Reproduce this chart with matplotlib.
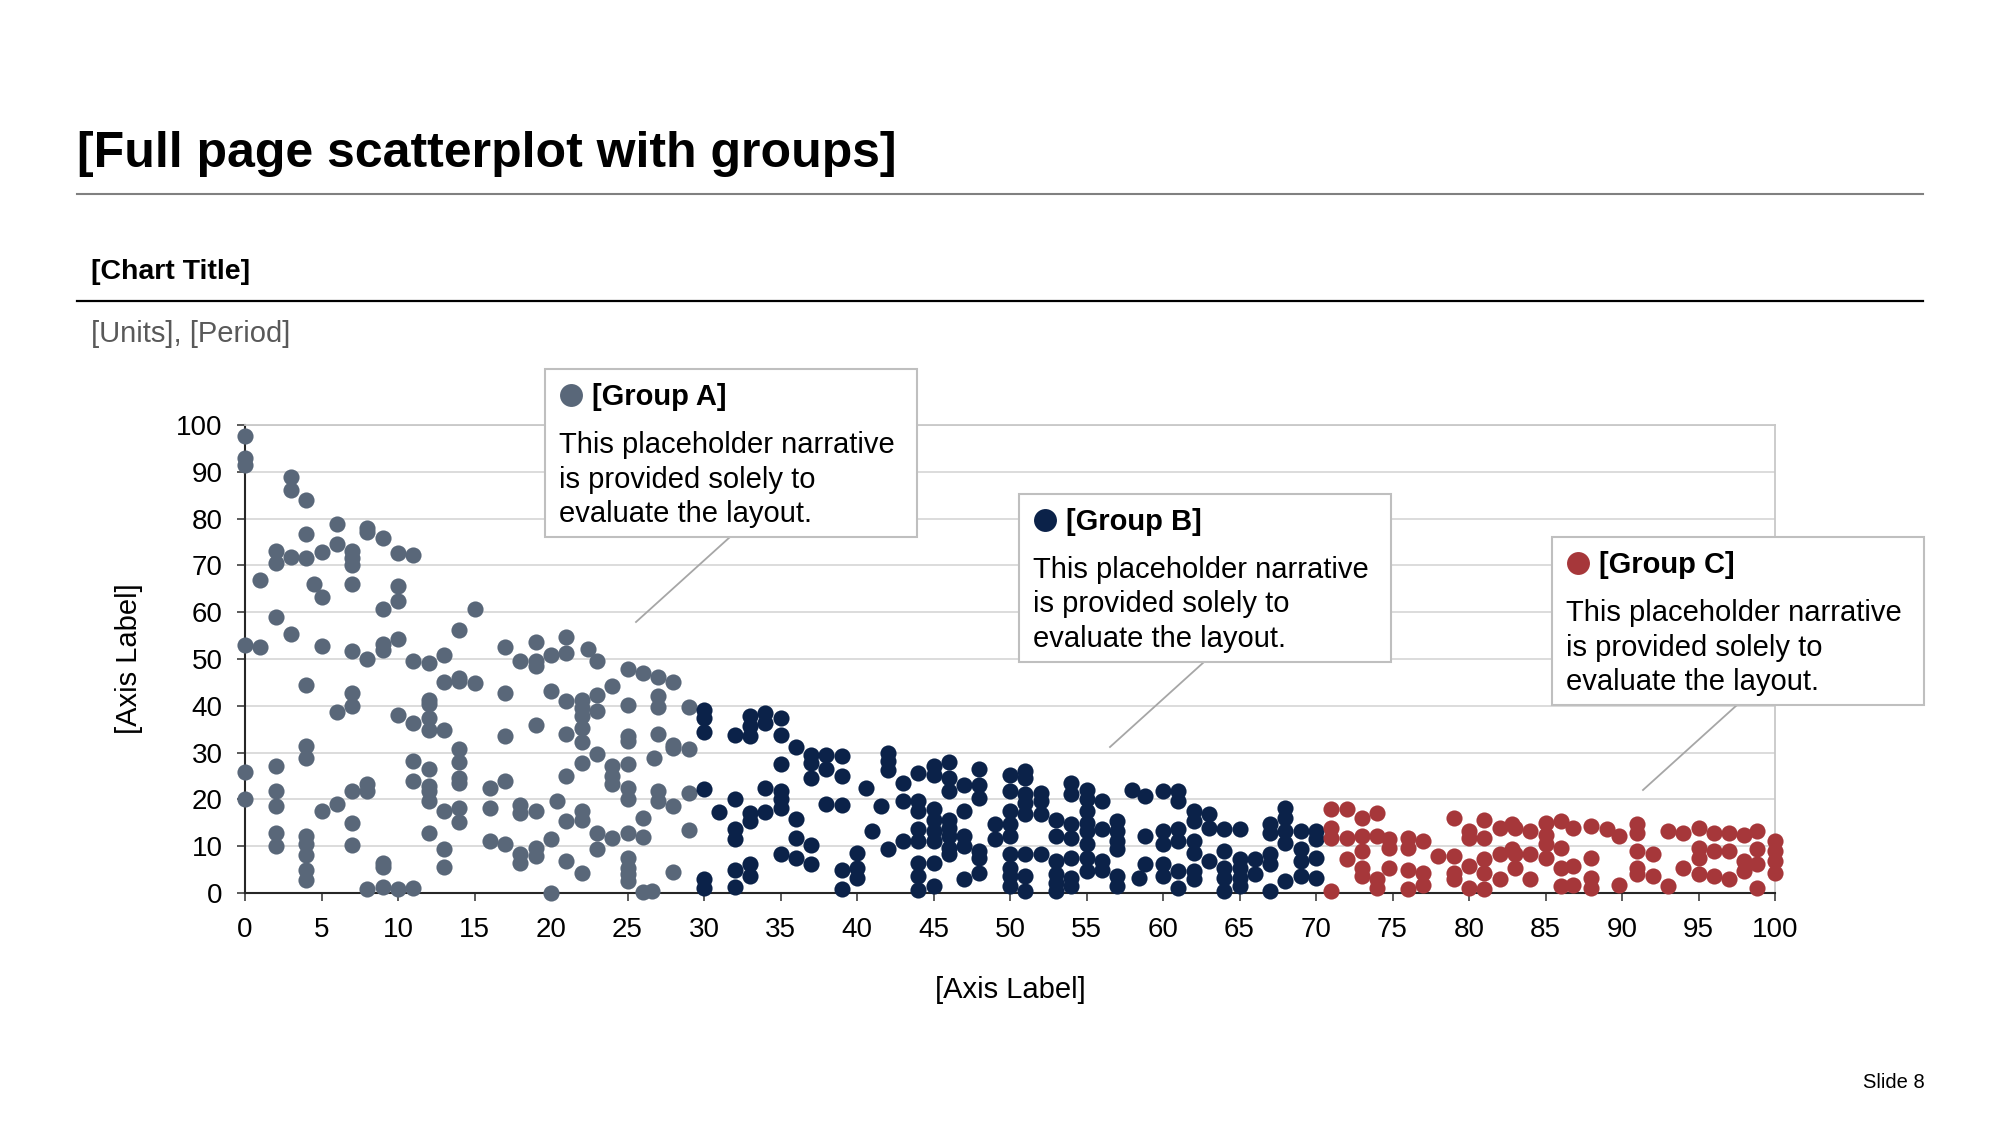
import matplotlib.pyplot as plt
from matplotlib.lines import Line2D
from matplotlib.patches import Rectangle

plt.rcParams['font.family'] = ['Liberation Sans', 'DejaVu Sans']

# ---- data ----
group_a_x = [0, 0, 0, 0, 0, 0,
             1, 1,
             2, 2, 2, 2, 2, 2, 2, 2,
             3, 3, 3, 3,
             4, 4, 4, 4, 4, 4, 4, 4, 4, 4, 4,
             4.5,
             5, 5, 5, 5,
             6, 6, 6, 6,
             7, 7, 7, 7, 7, 7, 7, 7, 7, 7,
             8, 8, 8, 8, 8, 8,
             9, 9, 9, 9, 9, 9, 9,
             10, 10, 10, 10, 10, 10,
             11, 11, 11, 11, 11, 11,
             12, 12, 12, 12, 12, 12, 12, 12, 12, 12,
             13, 13, 13, 13, 13, 13,
             14, 14, 14, 14, 14, 14, 14, 14, 14,
             15, 15,
             16, 16, 16,
             17, 17, 17, 17, 17,
             18, 18, 18, 18, 18,
             19, 19, 19, 19, 19, 19, 19,
             20, 20, 20, 20, 20.4,
             21, 21, 21, 21, 21, 21, 21,
             22, 22, 22, 22, 22, 22, 22, 22, 22, 22.4,
             23, 23, 23, 23, 23, 23,
             24, 24, 24, 24, 24,
             25, 25, 25, 25, 25, 25, 25, 25, 25, 25, 25, 25,
             26, 26, 26, 26, 26.6, 26.7,
             27, 27, 27, 27, 27, 27,
             28, 28, 28, 28, 28,
             29, 29, 29, 29]
group_a_y = [97.7, 92.9, 91.5, 53, 25.9, 20,
             66.8, 52.6,
             73, 70.5, 58.9, 27.1, 21.8, 18.5, 12.9, 10,
             88.8, 86.1, 71.9, 55.3,
             84, 76.7, 71.6, 44.4, 31.4, 28.9, 12.2, 10.4, 8.1, 5.0, 2.7,
             66,
             72.8, 63.3, 52.8, 17.6,
             78.8, 74.5, 38.7, 19.1,
             73, 71.6, 70.1, 66.1, 51.8, 42.7, 39.9, 21.9, 15, 10.2,
             77.9, 77.2, 50, 23.2, 21.8, 0.8,
             75.8, 60.7, 53.1, 52, 6.5, 5.5, 1.3,
             72.6, 65.7, 62.4, 54.3, 38, 0.8,
             72.3, 49.6, 36.3, 28.2, 23.9, 1.1,
             49.1, 41.3, 40.3, 37.4, 34.9, 26.4, 22.8, 21.8, 19.6, 12.9,
             50.9, 45.1, 34.9, 17.6, 9.5, 5.5,
             56.3, 45.9, 45.2, 30.8, 28, 24.6, 23.5, 18.1, 15.2,
             60.7, 44.9,
             22.5, 18.1, 11.2,
             52.5, 42.7, 33.5, 24, 10.5,
             49.6, 18.9, 17.1, 8.3, 6.5,
             53.6, 49.5, 48.6, 36, 17.5, 9.7, 7.9,
             50.8, 43.2, 11.5, 0.1, 19.6,
             54.6, 51.3, 41, 33.9, 25, 15.4, 6.8,
             41.3, 39.5, 37.8, 35.3, 32.2, 27.8, 17.5, 15.7, 4.3, 52.1,
             49.6, 42.4, 38.8, 29.6, 12.9, 9.5,
             44.2, 27.1, 25, 23.2, 11.8,
             47.9, 40.1, 33.5, 32.4, 27.5, 22.5, 20, 12.9, 7.5, 5.4, 4, 2.6,
             47, 16.1, 11.9, 0.3, 0.4, 28.9,
             46.1, 42, 39.7, 33.9, 21.8, 19.6,
             45, 31.7, 31, 18.6, 4.5,
             39.8, 30.8, 21.4, 13.4]

group_b_x = [30, 30, 30, 30, 30, 30,
             31,
             32, 32, 32, 32, 32, 32,
             33, 33, 33, 33, 33, 33, 33,
             34, 34, 34, 34,
             35, 35, 35, 35, 35, 35, 35,
             36, 36, 36, 36,
             37, 37, 37, 37, 37,
             38, 38, 38,
             39, 39, 39, 39, 39,
             40, 40, 40, 40.6, 41, 41.6,
             42, 42, 42, 42,
             43, 43, 43,
             44, 44, 44, 44, 44, 44, 44, 44,
             45, 45, 45, 45, 45, 45, 45, 45,
             46, 46, 46, 46, 46, 46, 46, 46,
             47, 47, 47, 47, 47,
             48, 48, 48, 48, 48, 48,
             49, 49,
             50, 50, 50, 50, 50, 50, 50, 50, 50,
             51, 51, 51, 51, 51, 51, 51, 51,
             52, 52, 52, 52,
             53, 53, 53, 53, 53, 53,
             54, 54, 54, 54, 54, 54, 54,
             55, 55, 55, 55, 55, 55, 55, 55,
             56, 56, 56, 56,
             57, 57, 57, 57, 57, 57,
             58, 58.4, 58.8, 58.8, 58.8,
             60, 60, 60, 60, 60,
             61, 61, 61, 61, 61, 61,
             62, 62, 62, 62, 62, 62,
             63, 63, 63,
             64, 64, 64, 64, 64,
             65, 65, 65, 65, 65,
             66, 66,
             67, 67, 67, 67, 67,
             68, 68, 68, 68, 68,
             69, 69, 69, 69,
             70, 70, 70, 70]
group_b_y = [39.2, 37.3, 34.4, 22.3, 2.9, 1.1,
             17.4,
             33.7, 20, 13.6, 11.5, 5, 1.3,
             37.8, 35.6, 33.5, 17.1, 15.4, 6.1, 3.6,
             38.5, 36.3, 22.5, 17.4,
             37.3, 33.7, 27.5, 21.8, 20, 18.2, 8.3,
             31.2, 15.9, 11.7, 7.5,
             29.4, 27.8, 24.6, 10.2, 6.1,
             29.4, 26.4, 19.1,
             29.2, 25, 18.8, 5, 0.8,
             8.6, 5.4, 3.3, 22.5, 13.2, 18.6,
             29.9, 28.2, 26.2, 9.3,
             23.5, 19.6, 11.2,
             25.7, 19.6, 17.5, 13.6, 11.1, 6.5, 3.6, 0.6,
             27.1, 25.3, 17.9, 15.7, 13.2, 11.1, 6.5, 1.5,
             28, 24.6, 21.9, 15.7, 13.9, 12.2, 9.7, 8.3,
             23, 17.6, 12.2, 10, 2.9,
             26.4, 23, 20.2, 9, 7.5, 4.3,
             14.7, 11.5,
             25.3, 21.8, 17.5, 14.7, 12.2, 8.3, 5.4, 3.6, 1.5,
             26, 24.6, 21.1, 19.3, 16.8, 8.3, 3.6, 0.4,
             21.4, 19.6, 16.8, 8.3,
             15.7, 12.2, 6.8, 4, 2.2, 0.4,
             23.5, 21.1, 14.7, 11.8, 7.5, 3.3, 1.5,
             22.1, 20, 17.5, 15, 13.2, 10.4, 7.5, 4.7,
             19.6, 13.6, 6.8, 5,
             15.4, 13.2, 11.1, 9.3, 3.6, 1.5,
             22.1, 3.3, 20.7, 12.2, 6.1,
             21.8, 13.2, 10.4, 6.1, 3.6,
             21.8, 19.6, 13.6, 11.1, 4.7, 1.1,
             17.5, 15.4, 11.1, 8.6, 4.7, 2.9,
             16.8, 13.9, 6.8,
             13.6, 9, 5.4, 3.3, 0.4,
             13.6, 7.2, 5.4, 3.3, 1.5,
             7.2, 4,
             14.8, 12.9, 8.3, 6.1, 0.4,
             18.2, 16.1, 13.2, 10.7, 2.6,
             13.2, 9.3, 6.8, 3.6,
             13.2, 11.5, 7.5, 3.3]

group_c_x = [71, 71, 71, 71,
             72, 72, 72,
             73, 73, 73, 73, 73,
             74, 74, 74, 74,
             74.8, 74.8, 74.8,
             76, 76, 76, 76,
             77, 77, 77,
             78,
             79, 79, 79, 79,
             80, 80, 80, 80,
             81, 81, 81, 81, 81,
             82, 82, 82,
             82.8, 82.8,
             83, 83, 83,
             84, 84, 84,
             85, 85, 85, 85,
             86, 86, 86, 86,
             86.8, 86.8, 86.8,
             88, 88, 88, 88,
             89, 89.8, 89.8,
             91, 91, 91, 91, 91,
             92, 92,
             93, 93,
             94, 94,
             95, 95, 95, 95,
             96, 96, 96,
             97, 97, 97,
             98, 98, 98,
             98.8, 98.8, 98.8, 98.8,
             100, 100, 100, 100]
group_c_y = [17.9, 13.9, 11.8, 0.4,
             17.9, 11.8, 7.2,
             16.1, 12.2, 9, 5.4, 3.6,
             17.1, 12.2, 2.9, 1.1,
             11.5, 9.7, 5.4,
             11.8, 9.7, 5, 0.8,
             11.1, 4.3, 1.8,
             7.9,
             16.1, 7.9, 4.3, 2.9,
             13.2, 11.8, 5.8, 1.1,
             15.7, 11.8, 7.2, 4.3, 0.8,
             13.9, 8.3, 2.9,
             14.8, 9.5,
             13.9, 8.3, 5.4,
             13.2, 8.3, 2.9,
             15, 12.5, 10.4, 7.5,
             15.4, 9.7, 5.4, 1.5,
             13.9, 5.8, 1.8,
             14.3, 7.5, 3.3, 1.1,
             13.6, 12.2, 1.8,
             14.7, 12.9, 9, 5.4, 4,
             8.3, 3.6,
             13.2, 1.5,
             12.9, 5.4,
             13.9, 9.7, 7.5, 4,
             12.9, 9, 3.6,
             12.9, 9, 2.9,
             12.5, 6.8, 4.7,
             13.2, 9.3, 6.1, 1.1,
             11.1, 9, 6.8, 4.3]

group_names = ['[Group A]', '[Group B]', '[Group C]']
group_colors = ['#596779', '#0b2249', '#a6373a']
narrative = 'This placeholder narrative\nis provided solely to\nevaluate the layout.'
x_ticks = list(range(0, 101, 5))
y_ticks = list(range(0, 101, 10))

W, H = 2000, 1125


def fx(px):
    return px / W


def fy(py):
    return 1 - py / H


fig = plt.figure(figsize=(20, 11.25), dpi=100)

# header (reference uses a narrow face; sized to match its width)
fig.text(fx(77), fy(154), '[Full page scatterplot with groups]',
         fontsize=36, fontweight='bold', va='center', ha='left')
fig.add_artist(Line2D([fx(77), fx(1923)], [fy(194), fy(194)], color='#808080', lw=1.5))
fig.text(fx(91), fy(272), '[Chart Title]', fontsize=20.5,
         fontweight='bold', va='center', ha='left')
fig.add_artist(Line2D([fx(77), fx(1923)], [fy(301), fy(301)], color='black', lw=1.6))
fig.text(fx(91), fy(334), '[Units], [Period]', fontsize=21,
         color='#595959', va='center', ha='left')
fig.text(fx(1925), fy(1082), 'Slide 8', fontsize=14.5, ha='right', va='center')

# scatter
ax = fig.add_axes([fx(245), fy(893), fx(1775) - fx(245), fy(425) - fy(893)])
for xs, ys, c in zip([group_a_x, group_b_x, group_c_x],
                     [group_a_y, group_b_y, group_c_y], group_colors):
    ax.scatter(xs, ys, s=135, color=c, linewidths=0, zorder=5, clip_on=False)

ax.set_xlim(0, 100)
ax.set_ylim(0, 100)
ax.set_xticks(x_ticks)
ax.set_yticks(y_ticks)
ax.tick_params(axis='both', labelsize=20, length=6, width=1.2, direction='out', color='#404040')
ax.tick_params(axis='x', pad=11)
ax.tick_params(axis='y', pad=10)
ax.yaxis.grid(True, color='#d9d9d9', lw=1.3)
ax.set_axisbelow(True)
for s in ['left', 'bottom']:
    ax.spines[s].set_color('#262626')
    ax.spines[s].set_linewidth(1.5)
for s in ['top', 'right']:
    ax.spines[s].set_color('#c8c8c8')
    ax.spines[s].set_linewidth(1.3)
ax.set_xlabel('[Axis Label]', fontsize=21, labelpad=24)
ax.set_ylabel('[Axis Label]', fontsize=21, labelpad=24)

# annotation boxes
boxes = [(545, 369), (1019, 494), (1552, 537)]
for (bx, by), name, c in zip(boxes, group_names, group_colors):
    fig.add_artist(Line2D([fx(bx + 185), fx(bx + 91)], [fy(by + 168), fy(by + 253)],
                          color='#a6a6a6', lw=1.3, zorder=6))
    fig.add_artist(Rectangle((fx(bx), fy(by + 168)), fx(372), 168 / H,
                             facecolor='white', edgecolor='#bfbfbf', lw=1.5, zorder=7))
    fig.add_artist(Line2D([fx(bx + 26)], [fy(by + 26)], marker='o', markersize=16.5,
                          color=c, markeredgewidth=0, zorder=8))
    fig.text(fx(bx + 47), fy(by + 28), name, fontsize=21, fontweight='bold',
             va='center', ha='left', zorder=9)
    for i, line in enumerate(narrative.split('\n')):
        fig.text(fx(bx + 14), fy(by + 76 + 34.5 * i), line, fontsize=21,
                 va='center', ha='left', zorder=9)

fig.savefig('out.png', dpi=100)
